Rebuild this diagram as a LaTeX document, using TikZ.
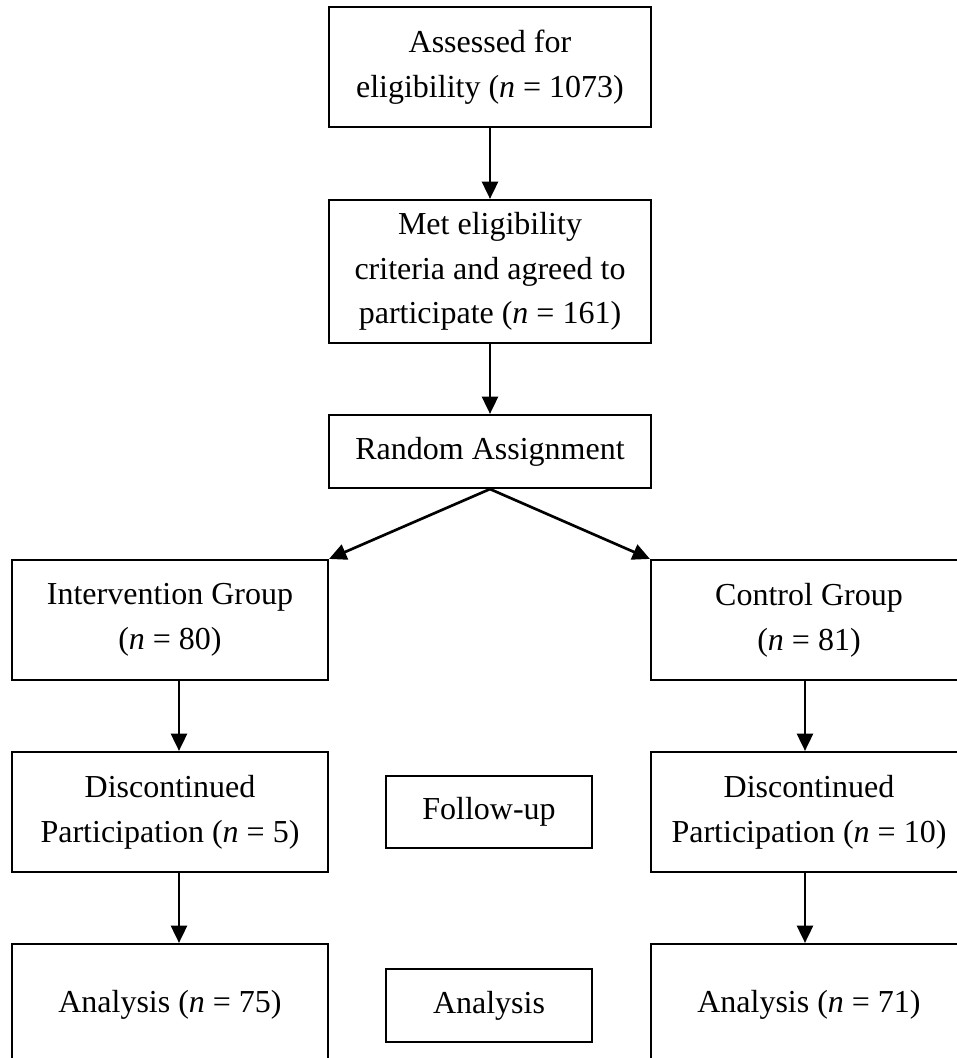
\documentclass[tikz,border=0pt]{standalone}
\usepackage{fontspec}
\setmainfont{Liberation Serif}
\usetikzlibrary{arrows.meta}
\tikzset{
  box/.style={draw=black, line width=1.6pt, inner sep=0pt, align=center,
    font=\fontsize{24}{33.5}\selectfont},
  arr/.style={line width=2pt, -{Triangle[length=13pt,width=12pt]}}
}
\begin{document}
\begin{tikzpicture}[x=0.75pt,y=-0.75pt]
\clip (0,0) rectangle (957,1058);
\fill[white] (0,0) rectangle (957,1058);
% top column
\node[box, minimum width=322*0.75pt, minimum height=120*0.75pt] (assess) at (490,67)
  {Assessed for\\eligibility (\textit{n} = 1073)};
\node[box, minimum width=322*0.75pt, minimum height=143*0.75pt] (met) at (490,271.5)
  {Met eligibility\\criteria and agreed to\\participate (\textit{n} = 161)};
\node[box, minimum width=322*0.75pt, minimum height=73*0.75pt] (rand) at (490,451.5)
  {Random Assignment};
% groups
\node[box, minimum width=316*0.75pt, minimum height=120*0.75pt] (interv) at (170,620)
  {Intervention Group\\(\textit{n} = 80)};
\node[box, minimum width=316*0.75pt, minimum height=120*0.75pt] (ctrl) at (809,620)
  {Control Group\\(\textit{n} = 81)};
% follow-up row
\node[box, minimum width=316*0.75pt, minimum height=120*0.75pt] (discL) at (170,812)
  {Discontinued\\Participation (\textit{n} = 5)};
\node[box, minimum width=206*0.75pt, minimum height=72*0.75pt] (follow) at (489,812)
  {Follow-up};
\node[box, minimum width=316*0.75pt, minimum height=120*0.75pt] (discR) at (809,812)
  {Discontinued\\Participation (\textit{n} = 10)};
% analysis row
\node[box, minimum width=316*0.75pt, minimum height=122*0.75pt] (anaL) at (170,1005)
  {Analysis (\textit{n} = 75)};
\node[box, minimum width=206*0.75pt, minimum height=73*0.75pt] (anaM) at (489,1005.5)
  {Analysis};
\node[box, minimum width=316*0.75pt, minimum height=122*0.75pt] (anaR) at (809,1005)
  {Analysis (\textit{n} = 71)};
% connectors
\draw[arr] (assess.south) -- (met.north);
\draw[arr] (met.south) -- (rand.north);
\draw[arr] (rand.south) -- (interv.north east);
\draw[arr] (rand.south) -- (ctrl.north west);
\draw[arr] ([xshift=9*0.75pt]interv.south) -- ([xshift=9*0.75pt]discL.north);
\draw[arr] ([xshift=-4*0.75pt]ctrl.south) -- ([xshift=-4*0.75pt]discR.north);
\draw[arr] ([xshift=9*0.75pt]discL.south) -- ([xshift=9*0.75pt]anaL.north);
\draw[arr] ([xshift=-4*0.75pt]discR.south) -- ([xshift=-4*0.75pt]anaR.north);
\end{tikzpicture}
\end{document}
